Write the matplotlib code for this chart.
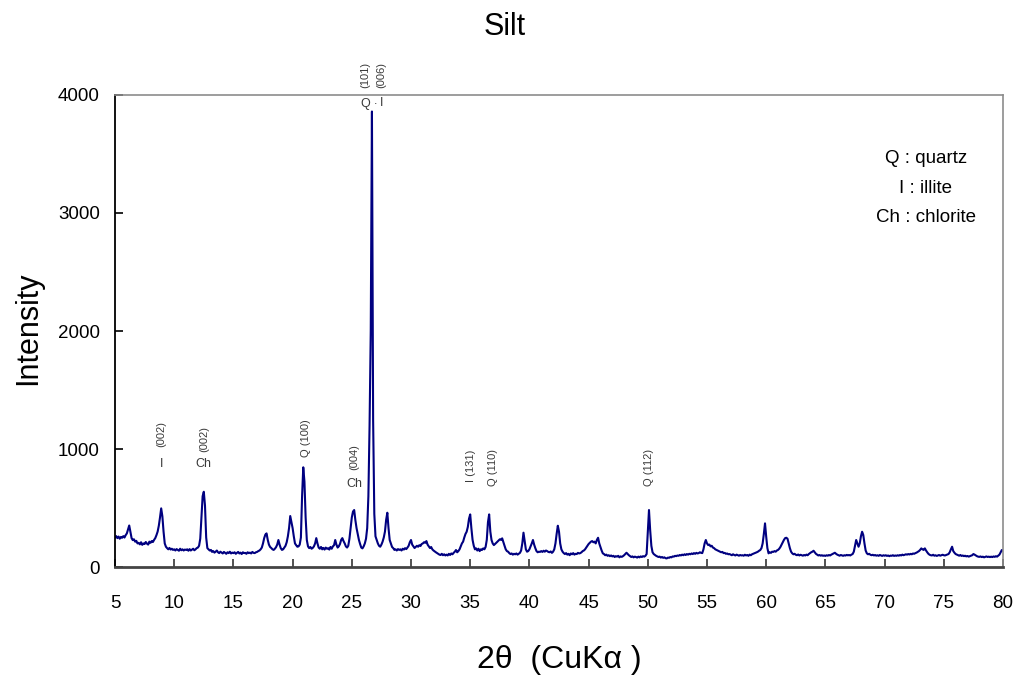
import numpy as np
import matplotlib
matplotlib.use("Agg")
import matplotlib.pyplot as plt


# data
# ---

# scan grid in degrees 2-theta, one reading every 0.1 deg
two_theta_start = 5.0
two_theta_step = 0.1

# intensity, one row per degree (x.0 ... x.9), last value at 80.0
intensity = [
    250, 262, 245, 258, 240, 255, 248, 262, 250, 270,   # 5
    285, 320, 352, 300, 245, 228, 235, 215, 222, 200,   # 6
    205, 192, 210, 188, 200, 195, 212, 198, 190, 215,   # 7
    205, 220, 212, 230, 245, 270, 300, 350, 420, 497,   # 8
    430, 300, 200, 172, 160, 150, 162, 148, 155, 145,   # 9
    150, 140, 152, 145, 138, 155, 142, 150, 140, 148,   # 10
    145, 150, 138, 152, 140, 148, 155, 142, 150, 160,   # 11
    165, 180, 240, 420, 600, 638, 520, 250, 160, 150,   # 12
    140, 145, 128, 135, 122, 130, 140, 125, 118, 130,   # 13
    122, 115, 128, 120, 112, 125, 118, 130, 115, 122,   # 14
    118, 125, 112, 120, 128, 115, 122, 110, 125, 118,   # 15
    120, 112, 125, 118, 122, 115, 128, 120, 118, 125,   # 16
    128, 135, 140, 150, 165, 200, 245, 275, 285, 230,   # 17
    190, 170, 161, 150, 145, 155, 168, 190, 229, 190,   # 18
    160, 145, 150, 165, 180, 210, 260, 330, 432, 380,   # 19
    330, 260, 200, 185, 172, 175, 190, 250, 600, 845,   # 20
    723, 420, 229, 175, 160, 170, 155, 162, 175, 200,   # 21
    245, 200, 165, 155, 170, 150, 162, 148, 165, 155,   # 22
    160, 148, 170, 155, 175, 185, 229, 190, 165, 175,   # 23
    195, 230, 245, 220, 200, 175, 165, 180, 240, 330,   # 24
    420, 470, 483, 398, 330, 280, 230, 195, 165, 158,   # 25
    175, 200, 240, 330, 600, 1200, 2000, 3860, 1250, 450,  # 26
    260, 229, 200, 180, 172, 190, 215, 250, 300, 400,   # 27
    460, 330, 229, 200, 170, 160, 145, 150, 140, 152,   # 28
    145, 150, 140, 155, 148, 160, 152, 165, 180, 210,   # 29
    229, 190, 175, 161, 170, 180, 172, 185, 178, 195,   # 30
    200, 210, 205, 220, 190, 175, 161, 170, 150, 140,   # 31
    132, 125, 118, 110, 105, 102, 112, 100, 108, 98,    # 32
    105, 98, 112, 102, 115, 108, 120, 130, 144, 125,    # 33
    135, 150, 175, 200, 215, 250, 280, 299, 340, 410,   # 34
    446, 328, 230, 180, 150, 158, 140, 155, 135, 150,   # 35
    145, 158, 150, 170, 230, 380, 446, 300, 229, 200,   # 36
    186, 195, 205, 215, 225, 235, 230, 243, 210, 180,   # 37
    150, 135, 130, 118, 110, 115, 105, 112, 108, 115,   # 38
    105, 112, 120, 140, 200, 291, 220, 150, 130, 135,   # 39
    150, 175, 200, 229, 190, 160, 135, 125, 130, 128,   # 40
    135, 128, 138, 130, 140, 135, 128, 125, 132, 120,   # 41
    130, 150, 200, 280, 350, 300, 200, 150, 130, 118,   # 42
    110, 118, 105, 112, 100, 115, 108, 118, 105, 112,   # 43
    110, 120, 115, 118, 125, 135, 140, 150, 165, 180,   # 44
    195, 205, 215, 220, 210, 215, 200, 230, 248, 200,   # 45
    170, 140, 116, 110, 100, 105, 95, 100, 92, 98,      # 46
    90, 95, 85, 92, 88, 95, 82, 90, 86, 92,             # 47
    100, 110, 121, 110, 100, 92, 85, 90, 82, 88,        # 48
    85, 80, 88, 82, 90, 85, 92, 88, 95, 110,            # 49
    300, 483, 313, 180, 125, 110, 102, 95, 90, 85,      # 50
    88, 80, 85, 78, 82, 75, 73, 80, 78, 85,             # 51
    82, 90, 88, 95, 92, 98, 95, 102, 98, 105,           # 52
    100, 108, 102, 110, 105, 112, 108, 115, 110, 118,   # 53
    112, 120, 115, 118, 125, 120, 118, 150, 200, 229,   # 54
    200, 186, 190, 175, 180, 165, 160, 150, 145, 140,   # 55
    135, 130, 125, 128, 118, 120, 112, 115, 108, 110,   # 56
    105, 100, 108, 102, 98, 105, 100, 96, 102, 98,      # 57
    100, 96, 104, 98, 102, 95, 105, 100, 108, 112,      # 58
    115, 120, 125, 130, 138, 144, 160, 200, 280, 370,   # 59
    257, 160, 116, 125, 120, 130, 128, 135, 130, 140,   # 60
    145, 155, 170, 190, 210, 230, 245, 248, 240, 200,   # 61
    160, 130, 116, 108, 112, 104, 100, 106, 98, 104,    # 62
    100, 96, 102, 98, 105, 100, 110, 118, 125, 130,     # 63
    138, 125, 112, 105, 98, 102, 96, 100, 95, 98,       # 64
    94, 100, 96, 102, 98, 105, 110, 115, 121, 112,      # 65
    105, 100, 96, 102, 98, 95, 100, 97, 103, 99,        # 66
    102, 98, 105, 110, 130, 180, 229, 200, 172, 200,    # 67
    260, 299, 271, 200, 140, 116, 108, 112, 104, 100,   # 68
    104, 98, 102, 96, 100, 95, 102, 98, 94, 100,        # 69
    96, 100, 94, 98, 92, 97, 95, 100, 94, 98,           # 70
    95, 100, 96, 102, 98, 105, 100, 104, 108, 105,      # 71
    110, 106, 112, 108, 115, 112, 118, 122, 128, 135,   # 72
    145, 158, 150, 145, 158, 140, 125, 112, 104, 100,   # 73
    98, 104, 96, 100, 94, 98, 102, 96, 100, 104,        # 74
    100, 98, 102, 105, 110, 125, 150, 172, 135, 121,    # 75
    110, 105, 100, 96, 102, 94, 98, 92, 96, 90,         # 76
    94, 88, 92, 96, 100, 110, 105, 98, 92, 88,          # 77
    86, 90, 84, 88, 82, 86, 90, 85, 88, 84,             # 78
    88, 84, 90, 86, 92, 88, 96, 105, 125, 144,          # 79
    140,                                                # 80
]
two_theta = two_theta_start + two_theta_step * np.arange(len(intensity))

# peak labels: rotated strings sitting above the peaks (2-theta, intensity)
rot_labels = ["(002)", "(002)", "Q (100)", "(004)", "I (131)", "Q (110)", "Q (112)",
              "(101)", "(006)"]
rot_x = [8.94, 12.54, 21.13, 25.21, 35.04, 36.95, 50.13, 26.11, 27.52]
rot_y = [1125, 1085, 1089, 935, 860, 843, 843, 4169, 4169]

# upright mineral letters under some of the rotated strings
flat_labels = ["I", "Ch", "Ch", "Q", ".", "I"]
flat_x = [8.94, 12.46, 25.19, 26.11, 27.04, 27.52]
flat_y = [870, 870, 700, 3924, 3950, 3935]

legend_lines = ["Q : quartz", "I : illite", "Ch : chlorite"]

x_ticks = np.arange(5, 81, 5)
y_ticks = [0, 1000, 2000, 3000, 4000]


# plot
# ---

plt.rcParams["font.family"] = ["Liberation Sans", "DejaVu Sans"]

fig = plt.figure(figsize=(10.16, 6.76), dpi=100)
ax = fig.add_axes([0.1132, 0.1612, 0.874, 0.6983])

ax.plot(two_theta, intensity, color="#000080", linewidth=1.5)

ax.set_xlim(5, 80)
ax.set_ylim(0, 4000)
ax.set_xticks(x_ticks)
ax.set_yticks(y_ticks)
ax.tick_params(axis="x", direction="in", length=6, width=1.2, pad=20,
               labelsize=13.5, color="#333333")
ax.tick_params(axis="y", direction="in", length=6, width=1.2, pad=11,
               labelsize=13.5)

for side in ["top", "right"]:
    ax.spines[side].set_color("#8c8c8c")
    ax.spines[side].set_linewidth(1.2)
ax.spines["left"].set_color("black")
ax.spines["left"].set_linewidth(1.3)
ax.spines["bottom"].set_color("#444444")
ax.spines["bottom"].set_linewidth(2.0)

# peak annotations
for lab, x, y in zip(rot_labels, rot_x, rot_y):
    ax.text(x, y, lab, rotation=90, ha="center", va="center", fontsize=8,
            color="#3a3a3a", clip_on=False)
for lab, x, y in zip(flat_labels, flat_x, flat_y):
    ax.text(x, y, lab, ha="center", va="center", fontsize=9, color="#3a3a3a")

# mineral key in the upper right
for i, line in enumerate(legend_lines):
    ax.text(0.913, 0.865 - i * 0.0625, line, transform=ax.transAxes,
            ha="center", va="center", fontsize=13.5)

fig.text(0.497, 1 - 27 / 676, "Silt", ha="center", va="center", fontsize=22)
fig.text(28 / 1016, 1 - 328 / 676, "Intensity", rotation=90, ha="center",
         va="center", fontsize=22)
fig.text(559 / 1016, 1 - 660 / 676, "2θ  (CuKα )", ha="center", va="center",
         fontsize=23)

plt.savefig("out.png", dpi=100)
plt.close()
